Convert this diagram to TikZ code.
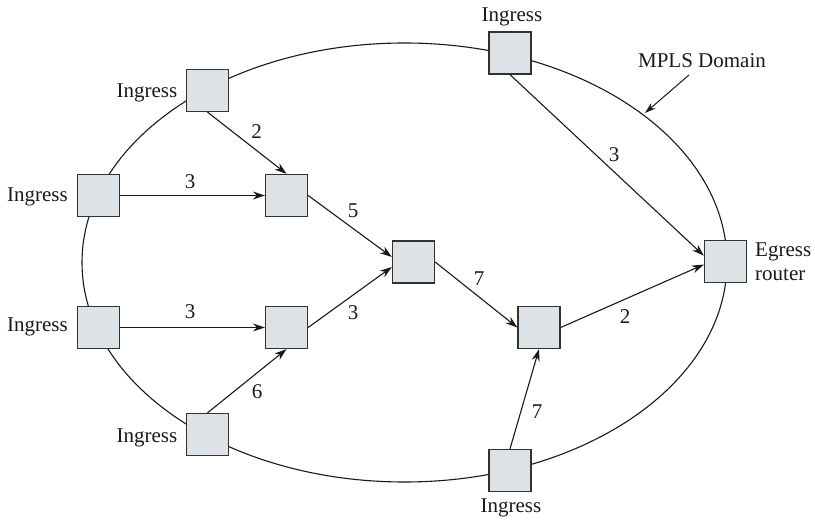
\documentclass[tikz,border=0pt]{standalone}
\usepackage{fontspec}
\setmainfont{Liberation Serif}
\usetikzlibrary{arrows.meta}
\definecolor{sqfill}{RGB}{220,226,230}
\definecolor{sqline}{RGB}{50,50,50}
\definecolor{lk}{RGB}{25,25,25}
\begin{document}
\begin{tikzpicture}[x=1pt,y=-1pt,
  rtr/.style={draw=sqline, fill=sqfill, line width=1.3pt, minimum size=42pt, inner sep=0pt},
  link/.style={line width=1.1pt, draw=lk, -{Stealth[length=12pt,width=8pt]}},
  txt/.style={font=\fontsize{21}{24}\selectfont, inner sep=0pt, text=lk},
  wt/.style={txt, anchor=center},
  ing/.style={txt, anchor=base}
]
\useasboundingbox (0,0) rectangle (815,521);
% MPLS domain boundary
\draw[line width=1.1pt, lk] (404.5,262.5) ellipse [x radius=322.5pt, y radius=219.5pt];
% routers
\node[rtr] (tl)  at (207.5,90.5) {};
\node[rtr] (t)   at (510,53) {};
\node[rtr] (l)   at (98.5,195.5) {};
\node[rtr] (l2)  at (98.5,327.5) {};
\node[rtr] (bl)  at (207.5,434.5) {};
\node[rtr] (b)   at (510,470.5) {};
\node[rtr] (a)   at (286.5,195.5) {};
\node[rtr] (bb)  at (286.5,327.5) {};
\node[rtr] (c)   at (413.5,262) {};
\node[rtr] (d)   at (539,327.5) {};
\node[rtr] (e)   at (725.5,261.5) {};
% links
\draw[link] (tl.south) -- (a.north);
\draw[link] (l.east) -- (a.west);
\draw[link] (a.east) -- (c.167);
\draw[link] (l2.east) -- (bb.west);
\draw[link] (bl.north) -- (bb.south);
\draw[link] (bb.east) -- (c.193);
\draw[link] (c.east) -- (d.west);
\draw[link] (b.north) -- (d.south);
\draw[link] (d.east) -- (e.188);
\draw[link] (t.south) -- (e.165);
% weights
\node[wt] (w1) at (256.5,132) {2};
\node[wt] (w2) at (190,182) {3};
\node[wt] (w3) at (353,211) {5};
\node[wt] (w4) at (190,312) {3};
\node[wt] (w5) at (257,392) {6};
\node[wt] (w6) at (353,313) {3};
\node[wt] (w7) at (479,279) {7};
\node[wt] (w8) at (625,317) {2};
\node[wt] (w9) at (537,412) {7};
\node[wt] (w10) at (614,155) {3};
% labels
\node[ing] (itl) at (147,98) {Ingress};
\node[ing] (il)  at (37.5,202) {Ingress};
\node[ing] (il2) at (37.5,332) {Ingress};
\node[ing] (ibl) at (147,443) {Ingress};
\node[ing] (it)  at (512,21.5) {Ingress};
\node[ing] (ib)  at (511,513) {Ingress};
\node[txt, anchor=base west] (eg1) at (755,257) {Egress};
\node[txt, anchor=base west] (eg2) at (755,281) {router};
\node[ing] (mp) at (702,67.5) {MPLS Domain};
\coordinate (mpa) at (689,75);
\coordinate (mpb) at (645,113);
\draw[line width=1pt, lk, -{Stealth[length=11pt,width=7pt]}] (mpa) -- (mpb);
\end{tikzpicture}
\end{document}
